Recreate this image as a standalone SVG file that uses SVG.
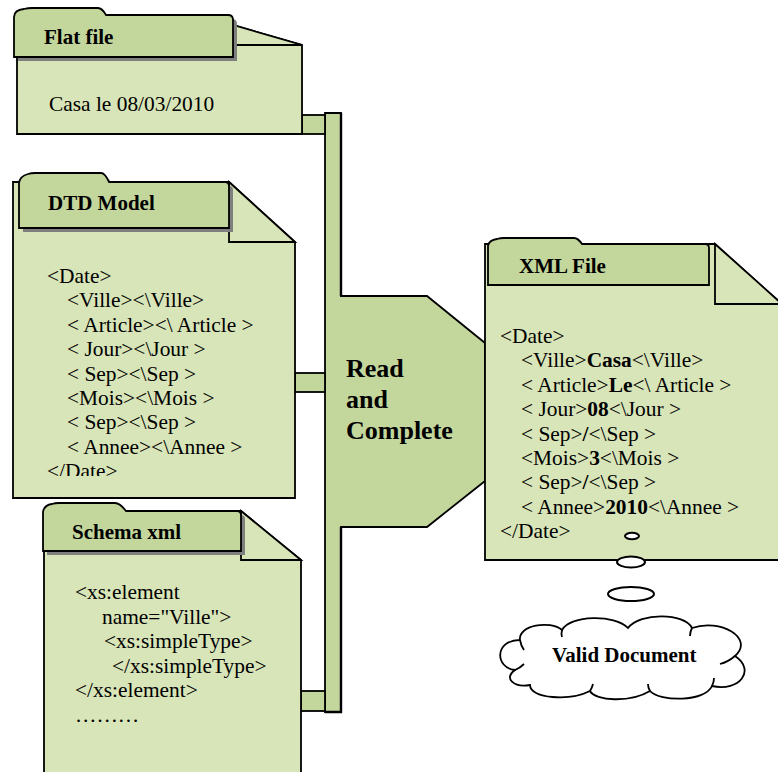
<svg xmlns="http://www.w3.org/2000/svg" width="778" height="772" viewBox="0 0 778 772">
  <style>
    .body { fill: #d8e5b8; stroke: #000; stroke-width: 1.8; stroke-linejoin: miter; }
    .tab { fill: #c3d69b; stroke: #000; stroke-width: 1.8; }
    .shadow { fill: #7f7f7f; stroke: none; }
    .link { fill: #c3d69b; stroke: #000; stroke-width: 1.8; }
    .proc { fill: #c3d69b; stroke: #000; stroke-width: 1.8; }
    .txt { font-family: "Liberation Serif", "Times New Roman", serif; font-size: 21.4px; fill: #000; }
    .head { font-family: "Liberation Serif", "Times New Roman", serif; font-size: 21px; font-weight: bold; fill: #000; }
    .big { font-family: "Liberation Serif", "Times New Roman", serif; font-size: 26px; font-weight: bold; fill: #000; }
    .b { font-weight: bold; }
    .bubble { fill: #fff; stroke: #000; stroke-width: 2; }
  </style>
  <defs>
    <clipPath id="dtdClip"><rect x="14" y="240" width="280" height="236"/></clipPath>
  </defs>

  <!-- process shape: bus bar with the hexagonal "Read and Complete" block -->
  <g id="read-complete">
    <path class="proc" d="M325,113 H341 V296 H427 L485,343 V481 L427,527 H341 V712 H325 Z"/>
    <path d="M341,113 V296 M341,527 V712 H325" fill="none" stroke="#000" stroke-width="2.4"/>
    <text class="big" x="346" y="377">Read</text>
    <text class="big" x="346" y="408">and</text>
    <text class="big" x="346" y="439">Complete</text>
  </g>

  <!-- links from the input documents to the bus bar -->
  <g id="connectors">
    <rect class="link" x="302" y="115" width="23" height="19"/>
    <rect class="link" x="295" y="373" width="30" height="19"/>
    <rect class="link" x="301" y="691" width="24" height="20"/>
  </g>

  <!-- Flat file -->
  <g id="flat-file">
    <path class="body" d="M17,25 H233 L302,45 V134 H17 Z"/>
    <path class="body" d="M233,25 L302,45 H233 Z"/>
    <path class="shadow" transform="translate(4,4)" d="M14,57 V17 Q14,10 24,9 Q28,8 32,8 H98 Q102,8 106,15 H228 Q233,15 233,20 V57 Z"/>
    <path class="tab" d="M14,57 V17 Q14,10 24,9 Q28,8 32,8 H98 Q102,8 106,15 H228 Q233,15 233,20 V57 Z"/>
    <text class="head" x="44" y="44">Flat file</text>
    <text class="txt" x="49" y="111">Casa le 08/03/2010</text>
  </g>

  <!-- DTD Model -->
  <g id="dtd-model">
    <path class="body" d="M13,182 H229 L295,242 V498 H13 Z"/>
    <path class="body" d="M229,182 L295,242 H229 Z"/>
    <path class="shadow" transform="translate(4,4)" d="M19,228 V183 Q20,176 28,174 Q31,173 35,173 H101 Q105,173 109,182 H225 Q229,182 229,186 V228 Z"/>
    <path class="tab" d="M19,228 V183 Q20,176 28,174 Q31,173 35,173 H101 Q105,173 109,182 H225 Q229,182 229,186 V228 Z"/>
    <text class="head" x="48" y="210">DTD Model</text>
    <g class="txt" clip-path="url(#dtdClip)">
      <text x="47" y="283">&lt;Date&gt;</text>
      <text x="67" y="307.4">&lt;Ville&gt;&lt;\Ville&gt;</text>
      <text x="67" y="331.8">&lt; Article&gt;&lt;\ Article &gt;</text>
      <text x="67" y="356.2">&lt; Jour&gt;&lt;\Jour &gt;</text>
      <text x="67" y="380.6">&lt; Sep&gt;&lt;\Sep &gt;</text>
      <text x="67" y="405">&lt;Mois&gt;&lt;\Mois &gt;</text>
      <text x="67" y="429.4">&lt; Sep&gt;&lt;\Sep &gt;</text>
      <text x="67" y="453.8">&lt; Annee&gt;&lt;\Annee &gt;</text>
      <text x="47" y="478.2">&lt;/Date&gt;</text>
    </g>
  </g>

  <!-- Schema xml -->
  <g id="schema-xml">
    <path class="body" d="M44,511 H241 L301,560 V790 H44 Z"/>
    <path class="body" d="M241,511 L301,560 H241 Z"/>
    <path class="shadow" transform="translate(4,4)" d="M43,551 V512 Q44,505 52,504 Q55,503 59,503 H115 Q120,503 126,511 H237 Q241,511 241,515 V551 Z"/>
    <path class="tab" d="M43,551 V512 Q44,505 52,504 Q55,503 59,503 H115 Q120,503 126,511 H237 Q241,511 241,515 V551 Z"/>
    <text class="head" x="72" y="539">Schema xml</text>
    <g class="txt">
      <text x="75" y="599">&lt;xs:element</text>
      <text x="102" y="623.5">name="Ville"&gt;</text>
      <text x="104" y="648">&lt;xs:simpleType&gt;</text>
      <text x="112" y="672.5">&lt;/xs:simpleType&gt;</text>
      <text x="75" y="697">&lt;/xs:element&gt;</text>
      <text x="75" y="721.5">………</text>
    </g>
  </g>

  <!-- XML File -->
  <g id="xml-file">
    <path class="body" d="M485,244 H715 L782,304 V560 H485 Z"/>
    <path class="body" d="M715,244 L782,304 H715 Z"/>
    <path class="tab" d="M488,285 V246 Q489,240 497,239 Q500,238 504,238 H574 Q578,238 582,244 H705 Q709,244 709,248 V285 Z"/>
    <text class="head" x="519" y="273">XML File</text>
    <g class="txt">
      <text x="500" y="343">&lt;Date&gt;</text>
      <text x="521" y="367.4">&lt;Ville&gt;<tspan class="b">Casa</tspan>&lt;\Ville&gt;</text>
      <text x="521" y="391.8">&lt; Article&gt;<tspan class="b">Le</tspan>&lt;\ Article &gt;</text>
      <text x="521" y="416.2">&lt; Jour&gt;<tspan class="b">08</tspan>&lt;\Jour &gt;</text>
      <text x="521" y="440.6">&lt; Sep&gt;<tspan class="b">/</tspan>&lt;\Sep &gt;</text>
      <text x="521" y="465">&lt;Mois&gt;<tspan class="b">3</tspan>&lt;\Mois &gt;</text>
      <text x="521" y="489.4">&lt; Sep&gt;<tspan class="b">/</tspan>&lt;\Sep &gt;</text>
      <text x="521" y="513.8">&lt; Annee&gt;<tspan class="b">2010</tspan>&lt;\Annee &gt;</text>
      <text x="500" y="538.2">&lt;/Date&gt;</text>
    </g>
  </g>

  <!-- thought bubbles leading to the cloud -->
  <g id="thought-bubbles">
    <ellipse class="bubble" cx="632" cy="536" rx="7" ry="3.2" stroke-width="2.6"/>
    <ellipse class="bubble" cx="631" cy="562" rx="14" ry="5.5"/>
    <ellipse class="bubble" cx="631" cy="594" rx="23" ry="7"/>
  </g>

  <!-- Valid Document cloud -->
  <g id="valid-document">
    <path fill="#fff" stroke="#000" stroke-width="1.8" d="M515,670 C495,668 494,640 520,640 C518,625 550,620 562,630 C570,615 615,614 628,628 C640,612 685,613 692,628 C720,618 755,638 735,656 C756,670 740,692 712,686 C705,702 660,702 650,691 C630,703 595,701 590,691 C570,701 530,699 530,685 C514,688 503,678 515,670 Z"/>
    <path fill="none" stroke="#000" stroke-width="1.8" d="M515,670 Q520,668 524,664 M520,640 Q521,646 524,650 M562,630 Q561,634 562,637 M692,628 Q690,632 690,636 M735,656 Q728,662 720,664 M712,686 Q714,682 714,678 M650,691 Q648,688 648,684 M590,691 Q592,688 593,684"/>
    <text class="head" x="552" y="662">Valid Document</text>
  </g>
</svg>
